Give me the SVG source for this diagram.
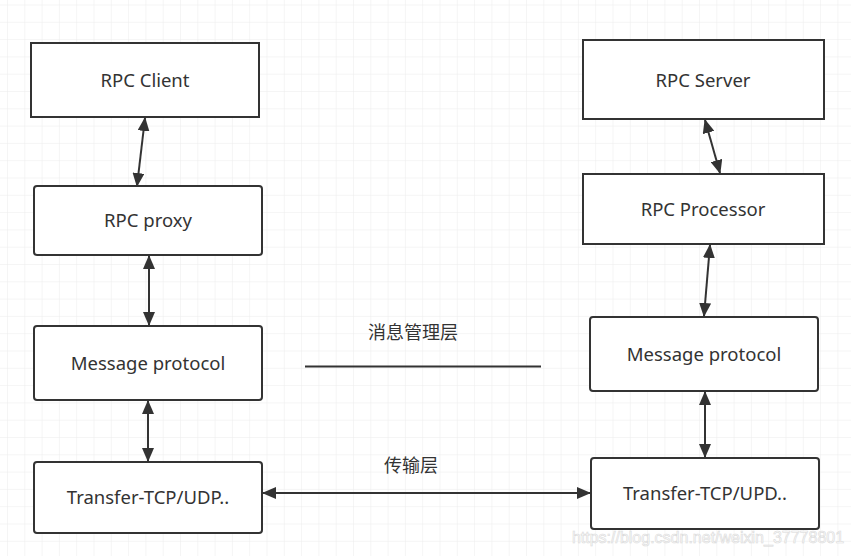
<svg xmlns="http://www.w3.org/2000/svg" width="851" height="556" viewBox="0 0 851 556">
<defs>
<pattern id="grid" x="7" y="4.5" width="17.3" height="17.3" patternUnits="userSpaceOnUse">
<path d="M0 0H17.3M0 0V17.3" fill="none" stroke="#ebebeb" stroke-width="1"/>
</pattern>
<marker id="ah" viewBox="0 0 14 12" refX="13" refY="6" markerWidth="14" markerHeight="12" markerUnits="userSpaceOnUse" orient="auto-start-reverse">
<path d="M0 0L14 6L0 12Z" fill="#333"/>
</marker>
</defs>
<style>
.box{fill:#fff;stroke:#333;stroke-width:2}
.t{font-family:"Noto Sans","Liberation Sans",sans-serif;font-size:18.5px;fill:#333;text-anchor:middle;dominant-baseline:central}
.c{font-family:"Noto Sans CJK SC",sans-serif;font-size:18px;fill:#333;text-anchor:middle;dominant-baseline:central}
.e{stroke:#333;stroke-width:2;fill:none}
</style>
<rect width="851" height="556" fill="#fff"/>
<rect width="851" height="556" fill="url(#grid)"/>
<g id="rpc-client"><rect class="box" x="31" y="43" width="228" height="74"/><text class="t" x="145" y="79">RPC Client</text></g>
<g id="rpc-proxy"><rect class="box" x="34" y="186" width="228" height="69" rx="3"/><text class="t" x="148" y="219">RPC proxy</text></g>
<g id="msg-left"><rect class="box" x="34" y="326" width="228" height="74" rx="3"/><text class="t" x="148" y="362">Message protocol</text></g>
<g id="transfer-left"><rect class="box" x="34" y="462" width="228" height="71" rx="3"/><text class="t" x="148" y="496">Transfer-TCP/UDP..</text></g>
<g id="rpc-server"><rect class="box" x="583" y="40" width="241" height="79"/><text class="t" x="703" y="79">RPC Server</text></g>
<g id="rpc-processor"><rect class="box" x="583" y="174" width="241" height="70"/><text class="t" x="703" y="208">RPC Processor</text></g>
<g id="msg-right"><rect class="box" x="590" y="317" width="228" height="74" rx="3"/><text class="t" x="704" y="353">Message protocol</text></g>
<g id="transfer-right"><rect class="box" x="591" y="458" width="228" height="71" rx="3"/><text class="t" x="705" y="492">Transfer-TCP/UPD..</text></g>
<g id="labels">
<text class="c" x="413" y="331">消息管理层</text>
<text class="c" x="411" y="464">传输层</text>
</g>
<g id="connectors">
<line class="e" x1="145" y1="118" x2="137" y2="186" marker-start="url(#ah)" marker-end="url(#ah)"/>
<line class="e" x1="149" y1="256" x2="149" y2="325" marker-start="url(#ah)" marker-end="url(#ah)"/>
<line class="e" x1="148" y1="401" x2="148" y2="461" marker-start="url(#ah)" marker-end="url(#ah)"/>
<line class="e" x1="705" y1="120" x2="720" y2="173" marker-start="url(#ah)" marker-end="url(#ah)"/>
<line class="e" x1="710" y1="245" x2="704" y2="316" marker-start="url(#ah)" marker-end="url(#ah)"/>
<line class="e" x1="705" y1="392" x2="705" y2="457" marker-start="url(#ah)" marker-end="url(#ah)"/>
<line class="e" x1="263" y1="493" x2="590" y2="493" marker-start="url(#ah)" marker-end="url(#ah)"/>
<line class="e" x1="305" y1="366.5" x2="541" y2="366.5"/>
</g>
<text x="708" y="537" font-family="Liberation Sans,sans-serif" font-size="16" fill="#fff" stroke="#d6d6d6" stroke-width="0.6" text-anchor="middle" dominant-baseline="central" opacity="0.9">https://blog.csdn.net/weixin_37778801</text>
</svg>
